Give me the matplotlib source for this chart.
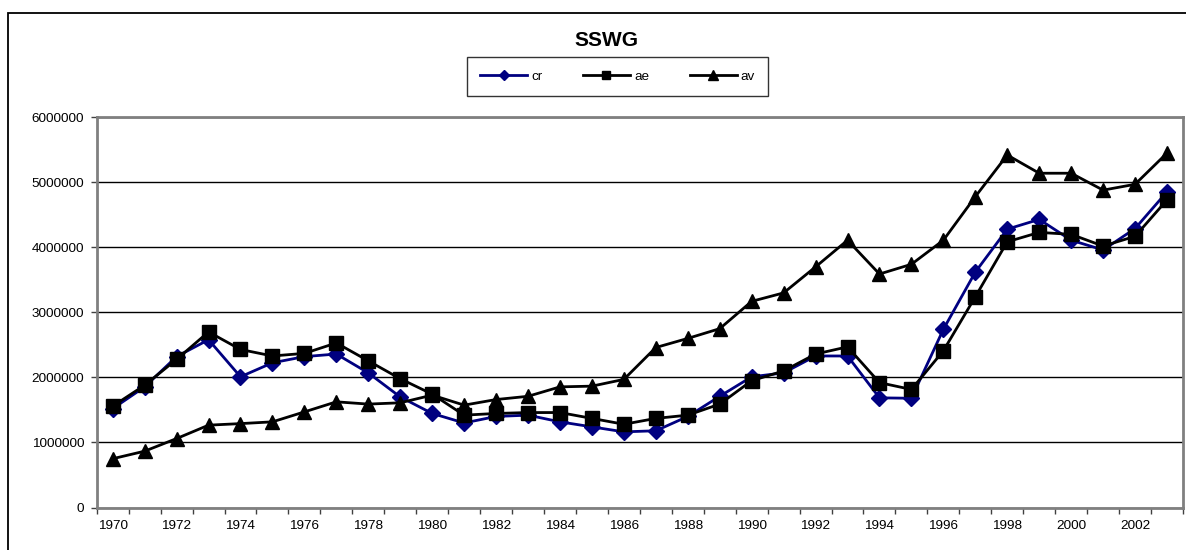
import matplotlib
matplotlib.use('Agg')
import matplotlib.pyplot as plt
from matplotlib.patches import Rectangle
import numpy as np

plt.rcParams['font.family'] = ['Liberation Sans', 'DejaVu Sans']

years = list(range(1970, 2004))

cr = [1520000, 1855000, 2320000, 2580000, 2010000, 2225000, 2320000, 2360000, 2070000, 1700000,
      1446000, 1300000, 1400000, 1420000, 1317000, 1240000, 1163000, 1180000, 1400000, 1710000,
      2010000, 2070000, 2330000, 2330000, 1686000, 1680000, 2740000, 3620000, 4280000, 4430000,
      4110000, 3960000, 4290000, 4855000]

ae = [1558000, 1880000, 2277000, 2700000, 2430000, 2330000, 2370000, 2530000, 2255000, 1980000,
      1743000, 1420000, 1446000, 1460000, 1460000, 1370000, 1280000, 1370000, 1420000, 1590000,
      1950000, 2100000, 2360000, 2470000, 1920000, 1815000, 2410000, 3240000, 4086000, 4230000,
      4200000, 4020000, 4170000, 4730000]

av = [750000, 866000, 1060000, 1266000, 1290000, 1317000, 1470000, 1625000, 1590000, 1610000,
      1728000, 1574000, 1660000, 1710000, 1855000, 1866000, 1970000, 2460000, 2600000, 2750000,
      3170000, 3300000, 3700000, 4110000, 3590000, 3740000, 4110000, 4780000, 5420000, 5140000,
      5140000, 4880000, 4970000, 5450000]

W, H = 1186, 550
fig = plt.figure(figsize=(W / 100, H / 100), dpi=100)

# outer chart frame (clipped at right and bottom)
fig.patches.append(Rectangle((8 / W, -0.05), 1.2, (550 - 12.5) / H + 0.05,
                             transform=fig.transFigure, fill=False,
                             edgecolor='black', linewidth=1.3))

ax = fig.add_axes([96.7 / W, (H - 507.5) / H, (1183 - 96.7) / W, (507.5 - 117.3) / H])

x = np.arange(len(years))
l1, = ax.plot(x, cr, color='#000080', lw=2, marker='D', ms=8, mec='#000080', mfc='#000080', label='cr', zorder=3)
l2, = ax.plot(x, ae, color='black', lw=2, marker='s', ms=9.5, label='ae', zorder=4)
l3, = ax.plot(x, av, color='black', lw=2, marker='^', ms=10.5, label='av', zorder=5)

ax.set_xlim(-0.5, len(years) - 0.5)
ax.set_ylim(0, 6000000)
ax.set_yticks(np.arange(0, 6000001, 1000000))
ax.set_yticklabels([str(v) for v in range(0, 6000001, 1000000)], fontsize=9.7)
ax.yaxis.grid(True, color='black', lw=1)
ax.set_axisbelow(True)

ax.set_xticks(x[::2])
ax.set_xticklabels([str(y) for y in years[::2]], fontsize=9.7)
ax.set_xticks(np.arange(-0.5, len(years), 1), minor=True)
ax.tick_params(axis='x', which='major', length=0, pad=9)
ax.tick_params(axis='x', which='minor', length=4, width=1, color='#404040', direction='out')
ax.tick_params(axis='y', length=4, width=1, color='#404040', direction='out', pad=5)

for s in ax.spines.values():
    s.set_color('#808080')
    s.set_linewidth(2)

fig.text(606 / W, 1 - 41 / H, 'SSWG', ha='center', va='center', fontsize=15, fontweight='bold')

leg = fig.legend(handles=[l1, l2, l3], loc='center', bbox_to_anchor=(617.5 / W, 1 - 76.5 / H),
                 ncol=3, fontsize=9.7, frameon=True, fancybox=False, edgecolor='black',
                 handlelength=3.5, handletextpad=0.3, columnspacing=3.0, borderpad=0.95,
                 markerscale=0.62)
leg.get_frame().set_linewidth(1)

fig.savefig('out.png', dpi=100)
